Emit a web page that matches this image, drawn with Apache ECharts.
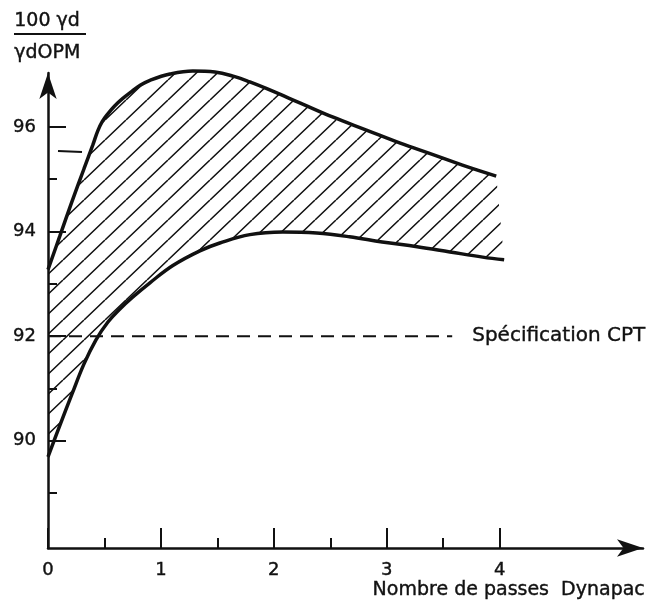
<!DOCTYPE html>
<html><head><meta charset="utf-8">
<script src="https://cdn.jsdelivr.net/npm/echarts@6/dist/echarts.min.js"></script>
<style>html,body{margin:0;padding:0;background:#fff}#c{width:647px;height:608px}</style>
</head><body><div id="c"></div>
<script>
// Upper envelope (x = nombre de passes, y = 100*gd/gdOPM)
const upperBound = [[0,93.27],[0.106,93.92],[0.212,94.57],[0.319,95.20],[0.398,95.66],[0.44,95.92],[0.48,96.10],[0.53,96.25],[0.59,96.40],[0.66,96.54],[0.743,96.68],[0.82,96.80],[0.903,96.89],[1.08,97.01],[1.283,97.07],[1.478,97.05],[1.655,96.96],[1.788,96.86],[1.938,96.73],[2.23,96.46],[2.52,96.19],[2.82,95.94],[3.12,95.69],[3.41,95.47],[3.71,95.24],[3.97,95.06]];
// Lower envelope
const lowerBound = [[0,89.69],[0.106,90.30],[0.212,90.89],[0.319,91.47],[0.425,91.93],[0.531,92.27],[0.637,92.52],[0.752,92.75],[0.903,93.02],[1.106,93.35],[1.345,93.63],[1.522,93.78],[1.788,93.94],[2.08,93.99],[2.38,93.97],[2.67,93.90],[2.96,93.80],[3.27,93.71],[3.56,93.61],[3.85,93.51],[4.04,93.46]];
// Specification line
const specLevel = 92;
const specFrom = 0, specTo = 3.58;
const specLabel = 'Spécification CPT';
// Axes
const xMajorTicks = [0,1,2,3,4];
const xMinorTicks = [0.5,1.5,2.5,3.5];
const yMajorTicks = [90,92,94,96];
const yMinorTicks = [89,91,93,95];
const xTitle = 'Nombre de passes  Dynapac';
const yTitleTop = '100 γd';
const yTitleBottom = 'γdOPM';

const FONT = 'DejaVu Sans';
const INK = '#111';

function hatchPattern(){
  const w = 21, h = 20;
  const c = document.createElement('canvas');
  c.width = w; c.height = h;
  const g = c.getContext('2d');
  g.strokeStyle = INK; g.lineWidth = 1.5;
  g.beginPath();
  for (const dx of [-w, 0, w]) { g.moveTo(dx, h); g.lineTo(dx + w, 0); }
  g.stroke();
  return c;
}
const pattern = hatchPattern();

const XMIN = 0, XMAX = 5.27, YMIN = 87.95, YMAX = 97.03;

const chart = echarts.init(document.getElementById('c'), null, {renderer: 'canvas'});
const axisLineStyle = {color: INK, width: 2.5};
const txt = {color: INK, fontFamily: FONT, textBorderColor: INK, textBorderWidth: 0.4};
chart.setOption({
  animation: false,
  backgroundColor: '#fff',
  grid: {left: 48, right: 4, top: 73, bottom: 60},
  xAxis: [{
    type: 'value', min: XMIN, max: XMAX,
    axisLine: {show: true, lineStyle: axisLineStyle, symbol: ['none', 'arrow'], symbolSize: [13, 26]},
    axisTick: {show: true, inside: true, length: 20, lineStyle: {color: INK, width: 2}, customValues: xMajorTicks},
    axisLabel: Object.assign({show: true, customValues: xMajorTicks, fontSize: 18, margin: 13}, txt),
    splitLine: {show: false}
  }, {
    type: 'value', min: XMIN, max: XMAX, position: 'bottom',
    axisLine: {show: false},
    axisTick: {show: true, inside: true, length: 10, lineStyle: {color: INK, width: 2}, customValues: xMinorTicks},
    axisLabel: {show: false},
    splitLine: {show: false}
  }],
  yAxis: [{
    type: 'value', min: YMIN, max: YMAX,
    axisLine: {show: true, lineStyle: axisLineStyle, symbol: ['none', 'arrow'], symbolSize: [13, 26]},
    axisTick: {show: true, inside: true, length: 18, lineStyle: {color: INK, width: 2}, customValues: yMajorTicks},
    axisLabel: Object.assign({show: true, customValues: yMajorTicks, fontSize: 18, margin: 12}, txt),
    splitLine: {show: false}
  }, {
    type: 'value', min: YMIN, max: YMAX, position: 'left', offset: 0,
    axisLine: {show: false},
    axisTick: {show: true, inside: true, length: 9, lineStyle: {color: INK, width: 2}, customValues: yMinorTicks},
    axisLabel: {show: false},
    splitLine: {show: false}
  }],
  graphic: [
    {type: 'text', left: 14, top: 11, style: {text: yTitleTop, font: '19px "DejaVu Sans"', fill: INK, stroke: INK, lineWidth: 0.4}},
    {type: 'line', shape: {x1: 14, y1: 34, x2: 86, y2: 34}, style: {stroke: INK, lineWidth: 2}},
    {type: 'text', left: 14, top: 43, style: {text: yTitleBottom, font: '19px "DejaVu Sans"', fill: INK, stroke: INK, lineWidth: 0.4}},
    {type: 'line', shape: {x1: 58, y1: 151, x2: 82, y2: 152}, style: {stroke: INK, lineWidth: 2}},
    {type: 'text', right: 2, top: 580, style: {text: xTitle, font: '19px "DejaVu Sans"', fill: INK, stroke: INK, lineWidth: 0.4}}
  ],
  series: [
    {
      type: 'custom', coordinateSystem: 'cartesian2d', xAxisIndex: 0, yAxisIndex: 0,
      data: [[0, 93]], clip: false, silent: true, z: 1,
      renderItem: function (params, api) {
        const pts = upperBound.map(p => api.coord(p))
          .concat(lowerBound.slice().reverse().map(p => api.coord(p)));
        return {type: 'polygon', shape: {points: pts}, style: {fill: {image: pattern, repeat: 'repeat'}, stroke: null}};
      }
    },
    {
      type: 'line', data: [[specFrom, specLevel], [specTo, specLevel]], symbol: 'none', z: 2,
      lineStyle: {color: INK, width: 2, type: [13, 8]},
      endLabel: Object.assign({show: true, formatter: specLabel, distance: 20, fontSize: 20}, txt)
    },
    {
      type: 'line', data: upperBound, symbol: 'none', smooth: 0.4, clip: false, z: 3,
      lineStyle: {color: INK, width: 3.5}
    },
    {
      type: 'line', data: lowerBound, symbol: 'none', smooth: 0.4, clip: false, z: 3,
      lineStyle: {color: INK, width: 3.5}
    }
  ]
});
</script>
</body></html>
